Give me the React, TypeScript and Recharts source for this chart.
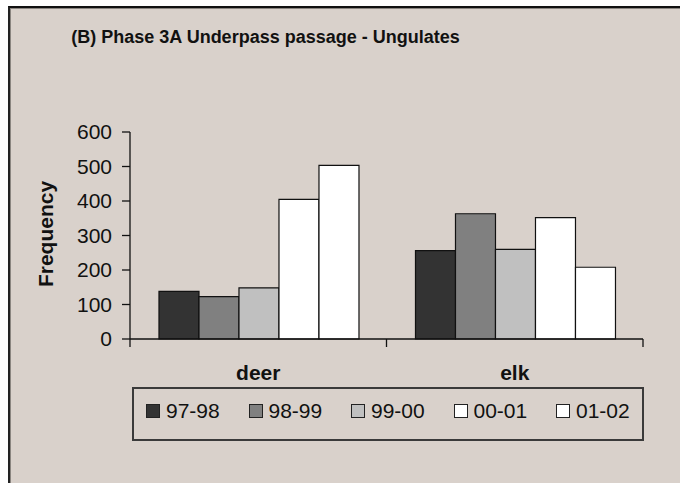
import React from "react";
import { BarChart, Bar, XAxis, YAxis } from "recharts";

const categories = ["deer", "elk"];
const seriesNames = ["97-98", "98-99", "99-00", "00-01", "01-02"];
const seriesColors = ["#333333", "#808080", "#C0C0C0", "#FFFFFF", "#FFFFFF"];
const deerValues = [138, 123, 148, 405, 503];
const elkValues = [256, 363, 260, 352, 208];
const yTicks = [0, 100, 200, 300, 400, 500, 600];

const valuesByCategory = [deerValues, elkValues];
const data = categories.map((c, ci) => {
  const row: Record<string, string | number> = { name: c };
  seriesNames.forEach((s, si) => {
    row[s] = valuesByCategory[ci][si];
  });
  return row;
});

const FONT = "'Liberation Sans', Arial, sans-serif";
const BG = "#D9D1CB";

const CategoryTick = (props: any) => {
  const { x, y, payload, index } = props;
  const off = payload && typeof payload.offset === "number" ? payload.offset : 0;
  return (
    <g>
      {index === 0 && (
        <line x1={x - off} y1={y - 8} x2={x - off} y2={y} stroke="#111" strokeWidth={1.3} />
      )}
      <line x1={x + off} y1={y - 8} x2={x + off} y2={y} stroke="#111" strokeWidth={1.3} />
      <text
        x={x}
        y={y + 33}
        textAnchor="middle"
        fontFamily={FONT}
        fontWeight="bold"
        fontSize={21}
        fill="#111"
      >
        {payload.value}
      </text>
    </g>
  );
};

export default function App() {
  return (
    <div
      style={{
        position: "absolute",
        left: 0,
        top: 0,
        width: 680,
        height: 483,
        background: "#fff",
        overflow: "hidden",
        fontFamily: FONT,
      }}
    >
      <div
        style={{
          position: "absolute",
          left: 8,
          top: 6,
          width: 680,
          height: 483,
          background: BG,
          borderTop: "2px solid #111",
          borderLeft: "2px solid #222",
          boxShadow: "inset 1px 1px 0 #8a8580",
        }}
      />
      <div
        style={{
          position: "absolute",
          left: 0,
          width: 531,
          top: 25,
          textAlign: "center",
          fontWeight: "bold",
          fontSize: 18,
          color: "#111",
          lineHeight: "24px",
        }}
      >
        (B) Phase 3A Underpass passage - Ungulates
      </div>
      <div
        style={{
          position: "absolute",
          left: 46,
          top: 234,
          transform: "translate(-50%, -50%) rotate(-90deg)",
          fontWeight: "bold",
          fontSize: 21,
          color: "#111",
          whiteSpace: "nowrap",
          lineHeight: "24px",
        }}
      >
        Frequency
      </div>
      <div style={{ position: "absolute", left: 0, top: 0 }}>
        <BarChart
          width={680}
          height={483}
          data={data}
          margin={{ top: 132, right: 37, left: 70, bottom: 104 }}
          barCategoryGap="11.3%"
          barGap={0}
        >
          <XAxis
            dataKey="name"
            axisLine={{ stroke: "#111", strokeWidth: 1.3 }}
            tickLine={false}
            tick={<CategoryTick />}
            height={40}
            interval={0}
          />
          <YAxis
            width={60}
            domain={[0, 600]}
            ticks={yTicks}
            interval={0}
            axisLine={{ stroke: "#111", strokeWidth: 1.3 }}
            tickLine={{ stroke: "#111", strokeWidth: 1.3 }}
            tickSize={8}
            tickMargin={10}
            tick={{ fill: "#111", fontSize: 21, fontFamily: FONT }}
          />
          {seriesNames.map((s, i) => (
            <Bar
              key={s}
              dataKey={s}
              fill={seriesColors[i]}
              stroke="#111"
              strokeWidth={1.2}
              isAnimationActive={false}
            />
          ))}
        </BarChart>
      </div>
      <div
        style={{
          position: "absolute",
          left: 132,
          top: 387,
          width: 508,
          height: 50,
          border: "2px solid #3a3a3a",
          background: BG,
        }}
      >
        {seriesNames.map((s, i) => (
          <div
            key={s}
            style={{
              position: "absolute",
              left: 12 + i * 102.5,
              top: 9,
              display: "flex",
              alignItems: "center",
              fontSize: 21,
              color: "#111",
              lineHeight: "26px",
              whiteSpace: "nowrap",
            }}
          >
            <span
              style={{
                display: "inline-block",
                width: 12,
                height: 12,
                background: seriesColors[i],
                border: "1px solid #222",
                marginRight: 6,
              }}
            />
            {s}
          </div>
        ))}
      </div>
    </div>
  );
}
